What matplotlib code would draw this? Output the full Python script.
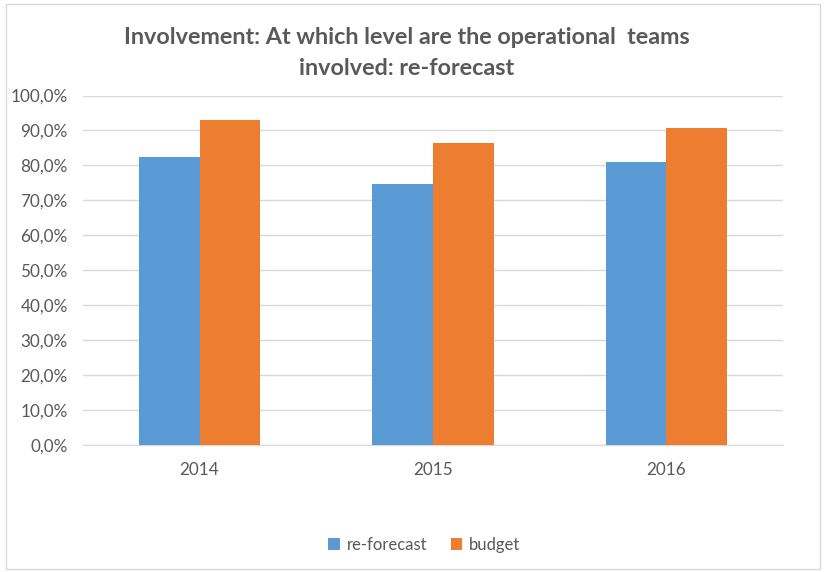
import numpy as np
import matplotlib
matplotlib.use("Agg")
import matplotlib.pyplot as plt
from matplotlib.patches import Rectangle
from matplotlib.ticker import FuncFormatter

plt.rcParams['font.family'] = ['Lato', 'DejaVu Sans']

# data
years = ['2014', '2015', '2016']
reforecast = [82.5, 74.8, 80.9]
budget = [93.0, 86.4, 90.8]

blue = '#5B9BD5'
orange = '#ED7D31'
grey = '#595959'

fig = plt.figure(figsize=(8.24, 5.72), dpi=100)
ax = fig.add_axes([0.1007, 0.222, 0.8493, 0.611])

x = np.arange(len(years))
w = 0.26
ax.bar(x - w / 2, reforecast, w, color=blue, label='re-forecast', zorder=3)
ax.bar(x + w / 2, budget, w, color=orange, label='budget', zorder=3)

ax.set_xlim(-0.5, 2.5)
ax.set_ylim(0, 100)
ax.set_yticks(np.arange(0, 101, 10))
ax.yaxis.set_major_formatter(FuncFormatter(lambda v, p: f'{v:.1f}%'.replace('.', ',')))
ax.set_xticks(x)
ax.set_xticklabels(years)
ax.tick_params(axis='both', length=0, labelsize=12.3, labelcolor=grey)
ax.tick_params(axis='x', pad=12)
ax.tick_params(axis='y', pad=11)
ax.grid(axis='y', color='#d9d9d9', linewidth=1, zorder=0)
for s in ['top', 'right', 'left']:
    ax.spines[s].set_visible(False)
ax.spines['bottom'].set_color('#d9d9d9')

fig.text(0.494, 0.935, 'Involvement: At which level are the operational  teams',
         ha='center', va='center', fontsize=16.8, fontweight='bold', color=grey)
fig.text(0.494, 0.88, 'involved: re-forecast',
         ha='center', va='center', fontsize=16.8, fontweight='bold', color=grey)

fig.legend(loc='center', bbox_to_anchor=(0.515, 0.048), ncol=2, frameon=False,
           fontsize=12, labelcolor=grey, handlelength=0.7, handleheight=0.7,
           handletextpad=0.4, columnspacing=1.4)

fig.patches.append(Rectangle((0.007, 0.005), 0.988, 0.988, transform=fig.transFigure,
                             fill=False, edgecolor='#d9d9d9', linewidth=1))

fig.savefig('out.png', dpi=100)
